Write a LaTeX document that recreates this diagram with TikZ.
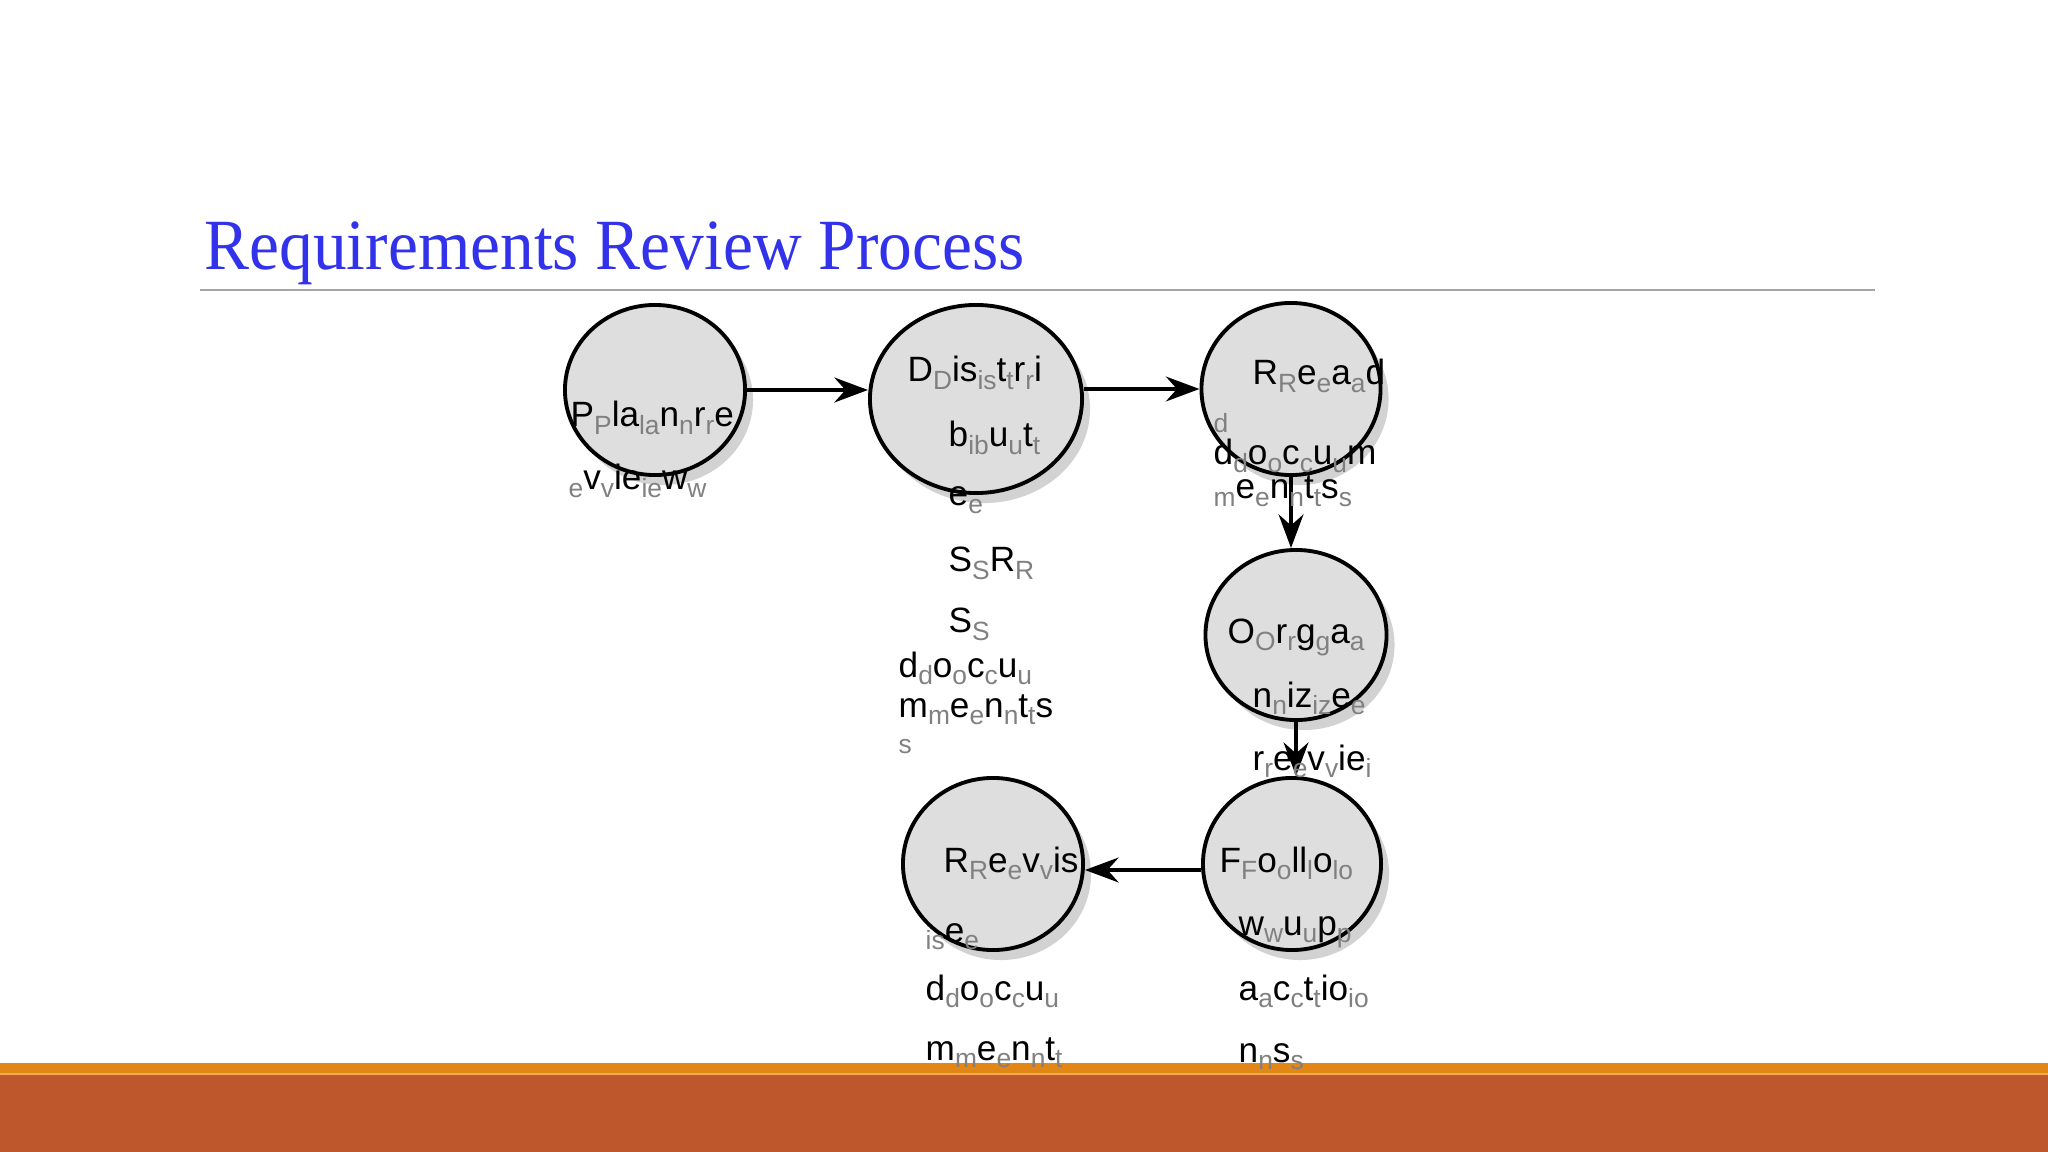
\documentclass[tikz,border=0pt]{standalone}
\usepackage{fontspec}
\setmainfont{Liberation Sans}
\newfontfamily\titlefont{Liberation Serif}
\usepackage{tikz}
\usetikzlibrary{positioning,calc}
\usetikzlibrary{arrows.meta,shapes.geometric,shadows}
\definecolor{TitleBlue}{RGB}{50,50,235}
\definecolor{RuleGray}{RGB}{165,165,165}
\definecolor{StageGray}{RGB}{222,222,222}
\definecolor{ShadeGray}{RGB}{210,210,210}
\definecolor{GhostGray}{RGB}{128,128,128}
\definecolor{BarOrange}{RGB}{226,134,22}
\definecolor{BarLight}{RGB}{240,168,90}
\definecolor{BarRust}{RGB}{190,88,44}
\newcommand{\gh}[1]{\raisebox{-2pt}{\color{GhostGray}\fontsize{7.5}{8}\selectfont #1}}
\tikzset{
	stage/.style={ellipse,draw=black,fill=StageGray,line width=1.1pt,inner sep=0pt,
		drop shadow={shadow xshift=0.08cm,shadow yshift=-0.1cm,fill=ShadeGray,opacity=1}},
	flow/.style={draw=black,line width=1.4pt,-{Stealth[length=9.5pt,width=7pt]}},
	word/.style={anchor=base west,inner sep=0pt,font=\fontsize{10}{12}\selectfont},
}

\begin{document}
\begin{tikzpicture}[x=0.01cm,y=-0.01cm]
	\useasboundingbox[fill=white] (0,0) rectangle (2048,1152);
	\node[anchor=base west,inner sep=0pt,xscale=0.935,text=TitleBlue,font=\titlefont\fontsize{20.5}{24}\selectfont] (title) at (204,270) {Requirements Review Process};
	\draw[RuleGray,line width=0.6pt] (200,290) -- (1875,290);
	\fill[BarOrange] (0,1063) rectangle (2048,1073);
	\fill[BarLight] (0,1073) rectangle (2048,1075);
	\fill[BarRust] (0,1075) rectangle (2048,1152);

	\node[stage,minimum width=1.80cm,minimum height=1.70cm] (plan) at (655,390) {};
	\node[stage,minimum width=2.12cm,minimum height=1.88cm] (distribute) at (976,399) {};
	\node[stage,minimum width=1.79cm,minimum height=1.72cm] (read) at (1291,389) {};
	\node[stage,minimum width=1.81cm,minimum height=1.70cm] (organize) at (1296,635) {};
	\node[stage,minimum width=1.78cm,minimum height=1.72cm] (followup) at (1292,864) {};
	\node[stage,minimum width=1.80cm,minimum height=1.72cm] (revise) at (993,864) {};

	\draw[flow] (plan.east) -- (plan.east -| distribute.west);
	\draw[flow] (distribute.east |- read.west) -- (read.west);
	\draw[flow] (read.south) -- (read.south |- organize.north);
	\draw[flow] (organize.south) -- (organize.south |- followup.north);
	\draw[flow] ([yshift=-0.06cm]followup.west) -- ([yshift=-0.06cm]followup.west -| revise.east);

	\node[word] (planA) at (570,427) {P\gh{P}la\gh{la}n\gh{n}r\gh{r}e};
	\node[word] (planB) at (568,490) {\gh{e}v\gh{v}ie\gh{ie}w\gh{w}};

	\node[word] (distA) at (907,382) {D\gh{D}is\gh{is}t\gh{t}r\gh{r}i};
	\node[word] (distB) at (948,447) {b\gh{ib}u\gh{u}t\gh{t}};
	\node[word] (distC) at (948,506) {e\gh{e}};
	\node[word] (distD) at (948,572) {S\gh{S}R\gh{R}};
	\node[word] (distE) at (948,633) {S\gh{S}};
	\node[word] (distF) at (898,677) {d\gh{d}o\gh{o}c\gh{c}u\gh{u}};
	\node[word] (distG) at (898,717) {m\gh{m}e\gh{e}n\gh{n}t\gh{t}s};
	\node[word] (distH) at (898,746) {\gh{s}};

	\node[word] (readA) at (1252,385) {R\gh{R}e\gh{e}a\gh{a}d};
	\node[word] (readB) at (1213,425) {\gh{d}};
	\node[word] (readC) at (1213,465) {d\gh{d}o\gh{o}c\gh{c}u\gh{u}m};
	\node[word] (readD) at (1213,499) {\gh{m}e\gh{e}n\gh{n}t\gh{t}s\gh{s}};

	\node[word] (orgA) at (1227,643) {O\gh{O}r\gh{r}g\gh{g}a\gh{a}};
	\node[word] (orgB) at (1252,707) {n\gh{n}iz\gh{iz}e\gh{e}};
	\node[word] (orgC) at (1252,770) {r\gh{r}e\gh{e}v\gh{v}ie\gh{i}};

	\node[word] (folA) at (1219,872) {F\gh{F}o\gh{o}ll\gh{l}o\gh{lo}};
	\node[word] (folB) at (1238,935) {w\gh{w}u\gh{u}p\gh{p}};
	\node[word] (folC) at (1238,1000) {a\gh{a}c\gh{c}t\gh{t}io\gh{io}};
	\node[word] (folD) at (1238,1062) {n\gh{n}s\gh{s}};

	\node[word] (revA) at (943,872) {R\gh{R}e\gh{e}v\gh{v}is};
	\node[word] (revB) at (925,942) {\gh{is}e\gh{e}};
	\node[word] (revC) at (925,1000) {d\gh{d}o\gh{o}c\gh{c}u\gh{u}};
	\node[word] (revD) at (925,1060) {m\gh{m}e\gh{e}n\gh{n}t\gh{t}};
\end{tikzpicture}
\end{document}
